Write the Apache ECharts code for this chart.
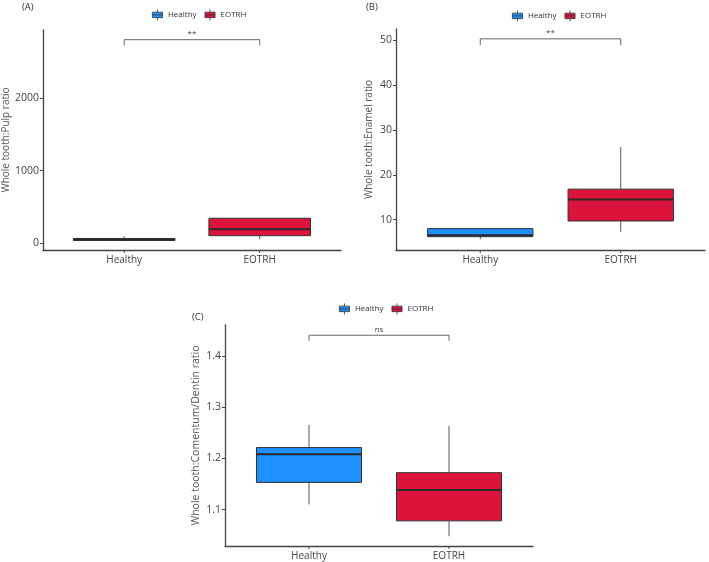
<!DOCTYPE html>
<html>
<head>
<meta charset="utf-8">
<script src="https://cdn.jsdelivr.net/npm/echarts@6/dist/echarts.min.js"></script>
<style>html,body{margin:0;padding:0;background:#fff;}#c{width:709px;height:562px;}</style>
</head>
<body>
<div id="c"></div>
<script>
// ---- data ----
const groups = ['Healthy', 'EOTRH'];
const groupColors = ['#1E90FF', '#DC143C'];
// [min, q1, median, q3, max]
const pulpHealthy = [25, 35, 48, 62, 95];
const pulpEOTRH = [55, 101, 189, 342, 342];
const enamelHealthy = [5.6, 6.2, 6.5, 8.0, 8.0];
const enamelEOTRH = [7.3, 9.7, 14.5, 16.8, 26.2];
const cementumHealthy = [1.110, 1.153, 1.208, 1.221, 1.265];
const cementumEOTRH = [1.048, 1.078, 1.138, 1.172, 1.263];
// y axis ticks
const pulpTicks = [0, 1000, 2000];
const enamelTicks = [10, 20, 30, 40, 50];
const cementumTicks = [1.1, 1.2, 1.3, 1.4];
// significance brackets: [x1, x2, yLine, yLegEnd, label]
const pulpSig = [1, 2, 2812, 2734, '**'];
const enamelSig = [1, 2, 50.3, 48.9, '**'];
const cementumSig = [1, 2, 1.440, 1.429, 'ns'];
const panelLabels = ['(A)', '(B)', '(C)'];
const yTitles = ['Whole tooth:Pulp ratio', 'Whole tooth:Enamel ratio', 'Whole tooth:Comentum/Dentin ratio'];

const FONT = 'Open Sans';
const chart = echarts.init(document.getElementById('c'));

const yRanges = [[-97, 2946], [3.23, 52.5], [1.029, 1.46]];

function makeBoxRender(panel) {
  return function (params, api) {
    const x = api.value(0);
    const lo = api.value(1), q1 = api.value(2), med = api.value(3), q3 = api.value(4), hi = api.value(5);
    const halfW = api.size([0.75, 0])[0] / 2;
    const cx = api.coord([x, med])[0];
    const py = v => api.coord([x, v])[1];
    const color = api.visual('color');
    const axisY = py(yRanges[panel][0]);
    return {
      type: 'group',
      children: [
        // category tick below the x axis
        { type: 'line', shape: { x1: cx, y1: axisY, x2: cx, y2: axisY + 3 }, style: { stroke: '#444', lineWidth: 1 } },
        { type: 'line', shape: { x1: cx, y1: py(q3), x2: cx, y2: py(hi) }, style: { stroke: '#555', lineWidth: 1 } },
        { type: 'line', shape: { x1: cx, y1: py(q1), x2: cx, y2: py(lo) }, style: { stroke: '#555', lineWidth: 1 } },
        { type: 'rect', shape: { x: cx - halfW, y: py(q3), width: 2 * halfW, height: py(q1) - py(q3) },
          style: { fill: color, stroke: '#333', lineWidth: 1 } },
        { type: 'line', shape: { x1: cx - halfW, y1: py(med), x2: cx + halfW, y2: py(med) }, style: { stroke: '#2a2a2a', lineWidth: 2 } }
      ]
    };
  };
}

function sigRender(params, api) {
  const x1 = api.value(0), x2 = api.value(1), yl = api.value(2), ye = api.value(3);
  const p1 = api.coord([x1, yl]), p2 = api.coord([x2, yl]);
  const e1 = api.coord([x1, ye]), e2 = api.coord([x2, ye]);
  return {
    type: 'group',
    children: [
      { type: 'polyline', shape: { points: [e1, p1, p2, e2] }, style: { stroke: '#666', lineWidth: 1, fill: null } },
      { type: 'text', style: { text: api.value(4), x: (p1[0] + p2[0]) / 2, y: p1[1] - 2, align: 'center', verticalAlign: 'bottom',
        fill: '#444', fontSize: 8, fontFamily: FONT } }
    ]
  };
}

const grids = [
  { left: 41, top: 30, width: 300, height: 220 },
  { left: 396, top: 29, width: 309, height: 221 },
  { left: 225, top: 325, width: 308, height: 221 }
];
const yTickSets = [pulpTicks, enamelTicks, cementumTicks];
const nameGaps = [27, 22, 23];
const titleSizes = [10, 10, 10.5];

const xAxes = grids.map((g, i) => ({
  type: 'value', gridIndex: i, min: 0.4, max: 2.6,
  splitLine: { show: false },
  axisLine: { show: true, onZero: false, lineStyle: { color: '#444', width: 1.3 } },
  axisTick: { show: false },
  axisLabel: { customValues: [1, 2], formatter: v => (groups[Math.round(v) - 1] || ''), color: '#444', fontSize: 10, fontFamily: FONT, margin: 5 }
}));
const yAxes = grids.map((g, i) => ({
  type: 'value', gridIndex: i, min: yRanges[i][0], max: yRanges[i][1],
  name: yTitles[i], nameLocation: 'middle', nameGap: nameGaps[i],
  nameTextStyle: { color: '#555', fontSize: titleSizes[i], fontFamily: FONT },
  splitLine: { show: false },
  axisLine: { show: true, onZero: false, lineStyle: { color: '#444', width: 1.3 } },
  axisTick: { show: true, customValues: yTickSets[i], length: 3, lineStyle: { color: '#444' } },
  axisLabel: { customValues: yTickSets[i], formatter: v => String(v), color: '#444', fontSize: 10.5, fontFamily: FONT, margin: 4 }
}));

const boxSets = [
  [pulpHealthy, pulpEOTRH],
  [enamelHealthy, enamelEOTRH],
  [cementumHealthy, cementumEOTRH]
];
const sigs = [pulpSig, enamelSig, cementumSig];
const series = [];
boxSets.forEach((set, i) => {
  set.forEach((vals, g) => {
    series.push({
      type: 'custom', name: groups[g], xAxisIndex: i, yAxisIndex: i,
      itemStyle: { color: groupColors[g] },
      encode: { x: 0, y: [1, 2, 3, 4, 5] },
      renderItem: makeBoxRender(i),
      clip: false,
      data: [[g + 1].concat(vals)],
      silent: true
    });
  });
  series.push({
    type: 'custom', xAxisIndex: i, yAxisIndex: i,
    encode: { x: [0, 1], y: [2, 3] },
    renderItem: sigRender,
    data: [sigs[i]],
    silent: true
  });
});

const boxIcon = 'path://M1,3H12V9H1Z M6.5,0V3 M6.5,9V12 M1,6H12';
const legendPos = [{ left: 147, top: 4 }, { left: 507, top: 5 }, { left: 334, top: 298 }];
const legends = legendPos.map(p => ({
  left: p.left, top: p.top, orient: 'horizontal',
  data: groups, icon: boxIcon, itemWidth: 13, itemHeight: 11, itemGap: 8,
  itemStyle: { borderColor: '#333', borderWidth: 0.8 },
  textStyle: { fontSize: 8, color: '#333', fontFamily: FONT, padding: [0, 0, 0, -1] },
  selectedMode: false
}));

const letterPos = [{ left: 22, top: 2 }, { left: 366, top: 2 }, { left: 192, top: 312 }];
const titles = panelLabels.map((t, i) => ({
  text: t, left: letterPos[i].left, top: letterPos[i].top, padding: 0,
  textStyle: { fontSize: 9.5, fontWeight: 'normal', color: '#333', fontFamily: FONT }
}));

chart.setOption({
  animation: false,
  backgroundColor: '#ffffff',
  title: titles,
  legend: legends,
  grid: grids,
  xAxis: xAxes,
  yAxis: yAxes,
  series: series
});
</script>
</body>
</html>
